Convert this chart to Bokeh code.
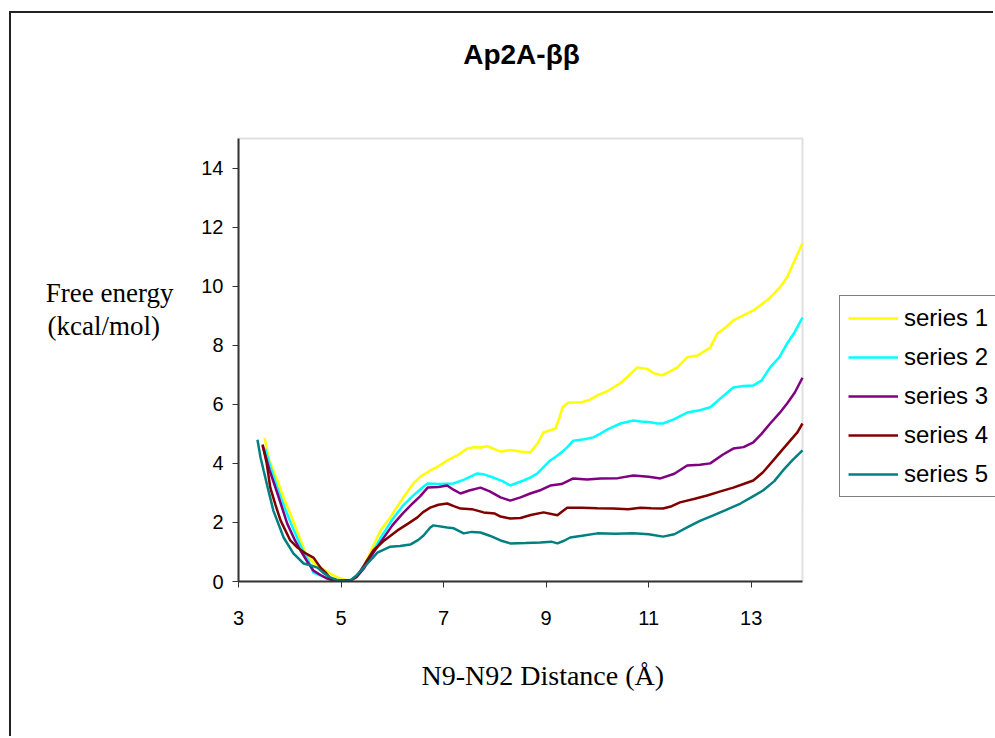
from bokeh.plotting import figure
from bokeh.models import (FixedTicker, Legend, LegendItem, LinearAxis, Range1d, Title,
                          Label, BoxAnnotation)
from bokeh.embed import file_html
from bokeh.resources import INLINE

# Free energy profiles along the N9-N92 distance
x_ticks = [3, 5, 7, 9, 11, 13]
y_ticks = [0, 2, 4, 6, 8, 10, 12, 14]
x_bounds = (3, 14)
y_bounds = (0, 15)

s1_x = [3.51, 3.6, 3.76, 3.9, 4.01, 4.2, 4.31, 4.45, 4.6, 4.79, 4.95, 5.1, 5.2, 5.3, 5.44, 5.6,
        5.77, 5.96, 6.1, 6.22, 6.41, 6.55, 6.74, 6.9, 7.07, 7.25, 7.46, 7.6, 7.72, 7.85, 7.97,
        8.11, 8.3, 8.5, 8.69, 8.83, 8.95, 9.18, 9.25, 9.32, 9.44, 9.67, 9.85, 10.0, 10.2, 10.45,
        10.6, 10.78, 10.97, 11.1, 11.26, 11.4, 11.56, 11.75, 11.95, 12.2, 12.34, 12.5, 12.65,
        13.04, 13.31, 13.56, 13.7, 13.82, 14.0]
s1_y = [4.85, 4.1, 3.42, 2.75, 2.3, 1.45, 0.95, 0.66, 0.47, 0.27, 0.12, 0.05, 0.02, 0.15, 0.47,
        1.1, 1.73, 2.17, 2.55, 2.85, 3.32, 3.55, 3.76, 3.9, 4.1, 4.25, 4.5, 4.55, 4.54, 4.58, 4.5,
        4.4, 4.45, 4.4, 4.37, 4.67, 5.05, 5.18, 5.5, 5.9, 6.06, 6.06, 6.15, 6.3, 6.45, 6.72, 6.95,
        7.25, 7.2, 7.05, 6.98, 7.1, 7.25, 7.59, 7.65, 7.92, 8.4, 8.6, 8.84, 9.18, 9.52, 9.96,
        10.3, 10.77, 11.45]

s2_x = [3.52, 3.62, 3.75, 3.9, 4.05, 4.2, 4.35, 4.46, 4.6, 4.8, 5.0, 5.15, 5.3, 5.45, 5.6, 5.8,
        6.0, 6.2, 6.4, 6.6, 6.69, 6.9, 7.19, 7.4, 7.66, 7.8, 7.97, 8.15, 8.3, 8.56, 8.69, 8.83,
        9.08, 9.25, 9.41, 9.53, 9.75, 9.92, 10.06, 10.2, 10.45, 10.7, 10.85, 11.0, 11.17, 11.28,
        11.5, 11.75, 12.0, 12.2, 12.4, 12.65, 12.85, 13.04, 13.2, 13.37, 13.55, 13.7, 13.85, 14.0]
s2_y = [4.5, 3.9, 3.2, 2.5, 1.85, 1.25, 0.75, 0.3, 0.2, 0.08, 0.03, 0.0, 0.2, 0.5, 0.95, 1.55,
        2.1, 2.55, 2.9, 3.2, 3.32, 3.3, 3.32, 3.45, 3.66, 3.62, 3.52, 3.4, 3.25, 3.42, 3.52, 3.66,
        4.1, 4.3, 4.54, 4.77, 4.82, 4.88, 5.01, 5.15, 5.35, 5.45, 5.42, 5.4, 5.35, 5.35, 5.5,
        5.72, 5.8, 5.9, 6.2, 6.57, 6.62, 6.64, 6.8, 7.25, 7.6, 8.06, 8.45, 8.94]

s3_x = [3.47, 3.6, 3.76, 3.95, 4.1, 4.21, 4.35, 4.46, 4.6, 4.73, 4.85, 5.0, 5.15, 5.3, 5.45, 5.6,
        5.8, 6.0, 6.2, 6.4, 6.55, 6.69, 6.9, 7.07, 7.2, 7.33, 7.5, 7.72, 7.9, 8.11, 8.3, 8.5,
        8.69, 8.9, 9.08, 9.3, 9.53, 9.8, 10.06, 10.4, 10.7, 11.0, 11.23, 11.5, 11.75, 12.0, 12.2,
        12.45, 12.65, 12.85, 13.04, 13.2, 13.37, 13.55, 13.7, 13.85, 14.0]
s3_y = [4.6, 3.8, 2.98, 1.96, 1.4, 1.05, 0.65, 0.37, 0.22, 0.1, 0.03, 0.0, 0.0, 0.15, 0.45, 0.9,
        1.4, 1.9, 2.3, 2.65, 2.9, 3.18, 3.2, 3.25, 3.1, 2.98, 3.08, 3.18, 3.05, 2.85, 2.74, 2.85,
        2.98, 3.1, 3.25, 3.3, 3.49, 3.45, 3.49, 3.5, 3.59, 3.55, 3.49, 3.65, 3.93, 3.95, 4.0,
        4.3, 4.5, 4.55, 4.71, 5.0, 5.35, 5.7, 6.03, 6.4, 6.9]

s4_x = [3.47, 3.55, 3.62, 3.72, 3.82, 4.01, 4.15, 4.31, 4.46, 4.6, 4.7, 4.79, 4.9, 5.05, 5.2,
        5.32, 5.45, 5.63, 5.85, 6.1, 6.3, 6.49, 6.6, 6.74, 6.9, 7.07, 7.2, 7.33, 7.55, 7.78, 8.0,
        8.11, 8.3, 8.5, 8.7, 8.95, 9.22, 9.3, 9.41, 9.7, 10.0, 10.31, 10.6, 10.84, 11.05, 11.28,
        11.45, 11.61, 11.9, 12.14, 12.4, 12.65, 12.85, 13.04, 13.23, 13.43, 13.6, 13.76, 13.9, 14.0]
s4_y = [4.64, 4.0, 3.18, 2.6, 2.07, 1.39, 1.15, 0.95, 0.81, 0.47, 0.3, 0.1, 0.05, 0.03, 0.05,
        0.2, 0.55, 1.05, 1.4, 1.73, 1.95, 2.17, 2.35, 2.5, 2.6, 2.64, 2.55, 2.47, 2.45, 2.34, 2.3,
        2.2, 2.13, 2.15, 2.25, 2.34, 2.24, 2.35, 2.5, 2.5, 2.48, 2.47, 2.45, 2.5, 2.48, 2.47,
        2.55, 2.68, 2.8, 2.91, 3.05, 3.18, 3.3, 3.42, 3.7, 4.1, 4.45, 4.77, 5.05, 5.35]

s5_x = [3.37, 3.43, 3.49, 3.57, 3.68, 3.88, 4.07, 4.27, 4.4, 4.54, 4.65, 4.79, 4.92, 5.05, 5.18,
        5.3, 5.44, 5.71, 5.96, 6.15, 6.35, 6.5, 6.61, 6.74, 6.8, 7.07, 7.2, 7.39, 7.55, 7.72, 7.9,
        8.11, 8.3, 8.6, 8.89, 9.1, 9.22, 9.35, 9.47, 9.7, 10.0, 10.35, 10.7, 11.0, 11.28, 11.5,
        11.75, 12.0, 12.26, 12.5, 12.79, 13.0, 13.23, 13.45, 13.62, 13.8, 14.0]
s5_y = [4.8, 4.2, 3.76, 3.18, 2.4, 1.49, 0.95, 0.61, 0.55, 0.47, 0.3, 0.14, 0.05, 0.0, 0.03,
        0.2, 0.47, 0.98, 1.18, 1.2, 1.25, 1.4, 1.56, 1.83, 1.9, 1.83, 1.8, 1.63, 1.68, 1.66, 1.55,
        1.39, 1.29, 1.3, 1.32, 1.35, 1.29, 1.38, 1.49, 1.55, 1.63, 1.62, 1.63, 1.6, 1.52, 1.6,
        1.83, 2.05, 2.24, 2.42, 2.64, 2.85, 3.08, 3.4, 3.76, 4.1, 4.44]

series_names = ["series 1", "series 2", "series 3", "series 4", "series 5"]
series_colors = ["#FFFF00", "#00FFFF", "#800080", "#800000", "#008080"]
series_data = [(s1_x, s1_y), (s2_x, s2_y), (s3_x, s3_y), (s4_x, s4_y), (s5_x, s5_y)]

# The drawing frame reaches the top and right edges of the canvas so the title and
# legend can sit inside it; the axes are bounded to the plotted region.
p = figure(width=984, height=725, x_range=(3, 17.764), y_range=(0, 19.233),
           title=None, output_backend="svg", toolbar_location=None,
           min_border_left=227, min_border_right=0,
           min_border_top=0, min_border_bottom=157)
# chart area border drawn as a thin shadow on the top and left edges
p.margin = (13, 0, 0, 11)
p.styles = {"box-shadow": "-2px -2px 0 0 #222222"}
p.background_fill_color = "white"
p.border_fill_color = "white"
p.outline_line_color = None
p.xgrid.visible = False
p.ygrid.visible = False

for ax, ticks, bnd in ((p.xaxis, x_ticks, x_bounds), (p.yaxis, y_ticks, y_bounds)):
    ax.ticker = FixedTicker(ticks=ticks)
    ax.bounds = bnd
    ax.minor_tick_line_color = None
    ax.major_tick_in = 0
    ax.major_tick_out = 6
    ax.axis_line_color = "#333333"
    ax.axis_line_width = 2
    ax.major_tick_line_color = "#333333"
    ax.major_tick_line_width = 1
    ax.major_label_text_font = "Liberation Sans"
    ax.major_label_text_font_size = "20px"
    ax.major_label_text_color = "black"
p.xaxis.major_label_standoff = 23
p.yaxis.major_label_standoff = 9

# plot-area border
p.add_layout(BoxAnnotation(left=x_bounds[0], right=x_bounds[1],
                           bottom=y_bounds[0], top=y_bounds[1],
                           fill_alpha=0, line_color="#999999", line_width=2,
                           level="underlay"))

# horizontal y-axis caption as a label-only axis on a pixel range
p.extra_y_ranges = {"caption": Range1d(0, 568)}
caption_axis = LinearAxis(y_range_name="caption",
                          ticker=FixedTicker(ticks=[289, 256]),
                          major_label_overrides={289: "Free energy",
                                                 256: "(kcal/mol)\u00a0\u00a0"},
                          axis_line_color=None, major_tick_line_color=None,
                          minor_tick_line_color=None, major_tick_in=0, major_tick_out=0,
                          major_label_standoff=25,
                          major_label_text_font="Liberation Serif",
                          major_label_text_font_size="27px",
                          major_label_text_color="black")
p.add_layout(caption_axis, "left")

p.add_layout(Title(text="N9-N92 Distance (Å)", align="left", offset=183,
                   text_font="Liberation Serif", text_font_style="normal",
                   text_font_size="28px", text_color="black", standoff=60), "below")

p.add_layout(Label(x=283, y=527, x_units="screen", y_units="screen", text="Ap2A-ββ",
                   text_font="Liberation Sans", text_font_style="bold",
                   text_font_size="28px", text_color="black",
                   text_align="center", text_baseline="middle"))

renderers = []
for (xs, ys), c in zip(series_data, series_colors):
    renderers.append(p.line(xs, ys, line_color=c, line_width=2.5))

legend = Legend(items=[LegendItem(label=n, renderers=[r]) for n, r in zip(series_names, renderers)],
                location=(601, 84), orientation="vertical",
                label_text_font="Liberation Sans", label_text_font_size="24px",
                label_text_color="black",
                glyph_width=50, glyph_height=20, label_height=20, spacing=11,
                padding=8, margin=0, label_standoff=6,
                border_line_color="black", border_line_width=1,
                background_fill_color="white")
p.add_layout(legend)

open("out.html", "w").write(file_html(p, INLINE))
